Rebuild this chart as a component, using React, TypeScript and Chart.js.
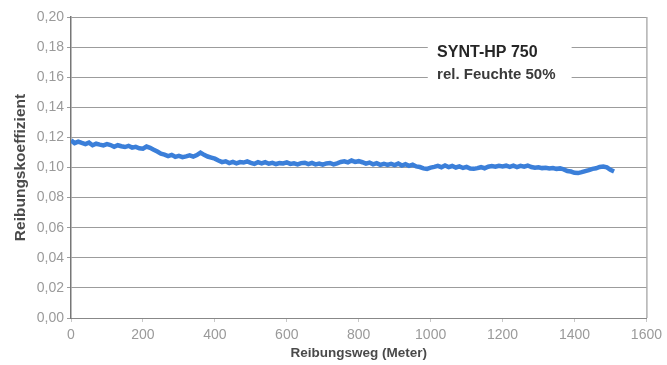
import React, { useEffect, useRef } from "react";
import { Chart, registerables } from "chart.js";

Chart.register(...registerables);

const distances: number[] = [
  0, 10, 20, 30, 40, 50, 60, 70, 80, 90,
  100, 110, 120, 130, 140, 150, 160, 170, 180, 190,
  200, 210, 220, 230, 240, 250, 260, 270, 280, 290,
  300, 310, 320, 330, 340, 350, 360, 370, 380, 390,
  400, 410, 420, 430, 440, 450, 460, 470, 480, 490,
  500, 510, 520, 530, 540, 550, 560, 570, 580, 590,
  600, 610, 620, 630, 640, 650, 660, 670, 680, 690,
  700, 710, 720, 730, 740, 750, 760, 770, 780, 790,
  800, 810, 820, 830, 840, 850, 860, 870, 880, 890,
  900, 910, 920, 930, 940, 950, 960, 970, 980, 990,
  1000, 1010, 1020, 1030, 1040, 1050, 1060, 1070, 1080, 1090,
  1100, 1110, 1120, 1130, 1140, 1150, 1160, 1170, 1180, 1190,
  1200, 1210, 1220, 1230, 1240, 1250, 1260, 1270, 1280, 1290,
  1300, 1310, 1320, 1330, 1340, 1350, 1360, 1370, 1380, 1390,
  1400, 1410, 1420, 1430, 1440, 1450, 1460, 1470, 1480, 1490,
  1500, 1510,
];

const frictionCoefficient: number[] = [
  0.118, 0.1162, 0.1172, 0.1163, 0.1155, 0.1165, 0.1148, 0.1158, 0.1152, 0.1147,
  0.1155, 0.1149, 0.1138, 0.1148, 0.1141, 0.1136, 0.1144, 0.1132, 0.1137, 0.1128,
  0.1125, 0.1139, 0.1131, 0.1118, 0.1106, 0.1092, 0.1086, 0.1076, 0.1084, 0.1071,
  0.1077, 0.1069, 0.1074, 0.1081, 0.1073, 0.1083, 0.1099, 0.1084, 0.1073, 0.1066,
  0.1059, 0.1047, 0.1036, 0.1041, 0.1029, 0.1037, 0.1027, 0.1036, 0.1033, 0.1041,
  0.1031, 0.1024, 0.1035, 0.1027, 0.1036, 0.1025, 0.1031, 0.1023, 0.1029, 0.1027,
  0.1034, 0.1024, 0.1028, 0.1021, 0.1029, 0.1032, 0.1022, 0.1031, 0.1021, 0.1026,
  0.1019, 0.1027, 0.1030, 0.1021, 0.1028, 0.1037, 0.1041, 0.1034, 0.1046, 0.1037,
  0.1042, 0.1035, 0.1026, 0.1033, 0.1021, 0.1029, 0.1018, 0.1025, 0.1017, 0.1024,
  0.1016, 0.1026, 0.1013, 0.1022, 0.1011, 0.1019, 0.1007, 0.1003, 0.0994, 0.0991,
  0.0999, 0.1004, 0.1011, 0.1002, 0.1013, 0.1003, 0.1010, 0.1000, 0.1007, 0.0997,
  0.1004, 0.0993, 0.0991, 0.0996, 0.1002, 0.0995, 0.1005, 0.1009, 0.1005, 0.1011,
  0.1007, 0.1012, 0.1004, 0.1012, 0.1002, 0.1011, 0.1005, 0.1013, 0.1003, 0.0999,
  0.1002, 0.0996, 0.0998, 0.0993, 0.0997, 0.0991, 0.0994, 0.0987, 0.0977, 0.0973,
  0.0965, 0.0963, 0.0969, 0.0976, 0.0983, 0.0991, 0.0995, 0.1004, 0.1007, 0.1001,
  0.0984, 0.0973,
];

const yTickLabels: string[] = [
  "0,00", "0,02", "0,04", "0,06", "0,08", "0,10",
  "0,12", "0,14", "0,16", "0,18", "0,20",
];

const xTickLabels: string[] = [
  "0", "200", "400", "600", "800", "1000", "1200", "1400", "1600",
];

const xTitle = "Reibungsweg (Meter)";
const yTitle = "Reibungskoeffizient";
const noteLines: string[] = ["SYNT-HP 750", "rel. Feuchte 50%"];

const FONT = "'Liberation Sans', Arial, sans-serif";

const notePlugin = {
  id: "noteBox",
  beforeDatasetsDraw(chart: any) {
    const { ctx, scales, chartArea } = chart;
    const xs = scales.x;
    const ys = scales.y;
    const x0 = xs.getPixelForValue(992);
    const x1 = xs.getPixelForValue(1392);
    const y0 = ys.getPixelForValue(0.188);
    const y1 = ys.getPixelForValue(0.152);
    ctx.save();
    ctx.fillStyle = "#ffffff";
    ctx.fillRect(x0, y0, x1 - x0, y1 - y0);
    ctx.fillStyle = "#262626";
    ctx.textBaseline = "middle";
    ctx.textAlign = "left";
    ctx.font = `bold 16px ${FONT}`;
    ctx.fillText(noteLines[0], xs.getPixelForValue(1018), ys.getPixelForValue(0.1765));
    ctx.fillStyle = "#3a3a3a";
    ctx.font = `bold 15px ${FONT}`;
    ctx.fillText(noteLines[1], xs.getPixelForValue(1018), ys.getPixelForValue(0.1615));
    ctx.strokeStyle = "#8a8a8a";
    ctx.lineWidth = 1;
    ctx.beginPath();
    ctx.moveTo(chartArea.right + 0.5, chartArea.top);
    ctx.lineTo(chartArea.right + 0.5, chartArea.bottom);
    ctx.stroke();
    ctx.restore();
  },
};

export default function App() {
  const canvasRef = useRef<HTMLCanvasElement | null>(null);

  useEffect(() => {
    document.body.style.margin = "0";
    const canvas = canvasRef.current;
    if (!canvas) return;
    const chart = new Chart(canvas, {
      type: "line",
      data: {
        labels: distances,
        datasets: [
          {
            data: distances.map((d, i) => ({ x: d, y: frictionCoefficient[i] })),
            borderColor: "#3b7fd9",
            borderWidth: 4.5,
            pointRadius: 0,
            tension: 0,
            fill: false,
          },
        ],
      },
      options: {
        animation: false,
        responsive: false,
        maintainAspectRatio: false,
        layout: { padding: { left: 0, top: 17, right: 18, bottom: 0 } },
        plugins: {
          legend: { display: false },
          tooltip: { enabled: false },
          title: { display: false },
        },
        scales: {
          x: {
            type: "linear",
            min: 0,
            max: 1600,
            ticks: {
              stepSize: 200,
              color: "#9a9a9a",
              font: { family: FONT, size: 14 },
              padding: 5,
              maxRotation: 0,
              callback: (_v: any, i: number) => xTickLabels[i],
            },
            grid: {
              display: true,
              drawOnChartArea: false,
              drawTicks: true,
              tickLength: 4,
              color: "#c8c8c8",
            },
            border: { display: true, color: "#888888", width: 1 },
            title: {
              display: true,
              text: xTitle,
              color: "#4a4a4a",
              font: { family: FONT, size: 13.5, weight: "bold" },
              padding: { top: 0, bottom: 4 },
            },
            afterFit: (scale: any) => {
              scale.height = 47;
            },
          },
          y: {
            min: 0,
            max: 0.2,
            ticks: {
              stepSize: 0.02,
              color: "#9a9a9a",
              font: { family: FONT, size: 14 },
              padding: 3,
              callback: (_v: any, i: number) => yTickLabels[i],
            },
            grid: {
              color: "#9c9c9c",
              lineWidth: 1,
              drawTicks: true,
              tickLength: 4,
            },
            border: { display: true, color: "#777777", width: 1.5 },
            title: {
              display: true,
              text: yTitle,
              color: "#4a4a4a",
              font: { family: FONT, size: 15.5, weight: "bold" },
              padding: { top: 11, bottom: 0 },
            },
            afterFit: (scale: any) => {
              scale.width = 71;
            },
          },
        },
      },
      plugins: [notePlugin],
    } as any);
    return () => chart.destroy();
  }, []);

  return (
    <div style={{ width: 667, height: 365, background: "#ffffff" }}>
      <canvas ref={canvasRef} width={667} height={365} style={{ display: "block" }} />
    </div>
  );
}
